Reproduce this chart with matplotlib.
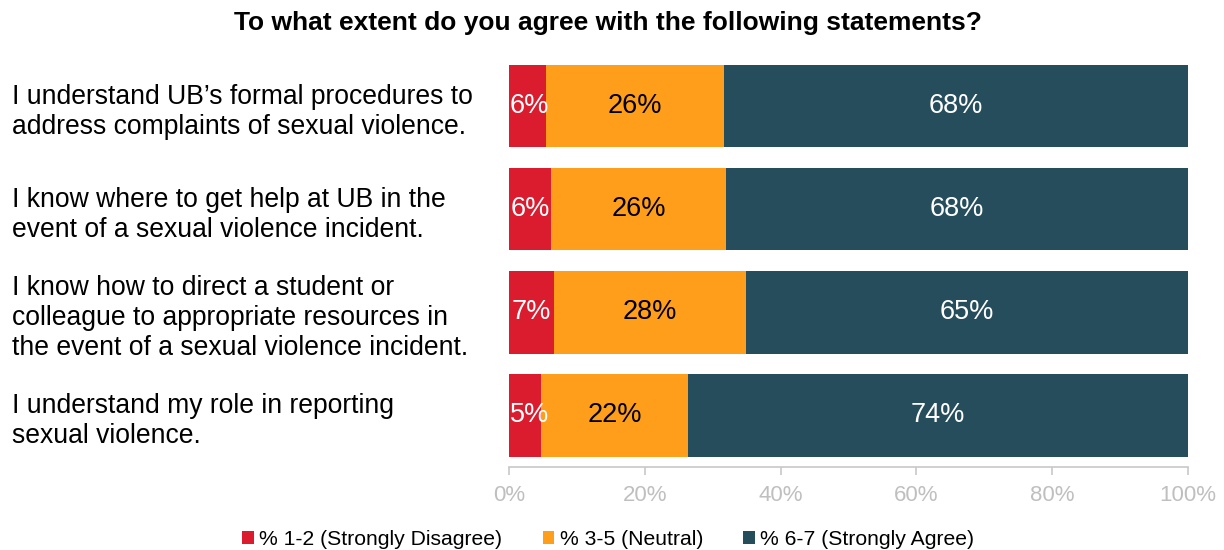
import matplotlib
matplotlib.use("Agg")
import matplotlib.pyplot as plt
from matplotlib.patches import Patch
from matplotlib.transforms import blended_transform_factory

plt.rcParams['font.family'] = ['Liberation Sans', 'DejaVu Sans']

statements = [
    "I understand UB\u2019s formal procedures to\naddress complaints of sexual violence.",
    "I know where to get help at UB in the\nevent of a sexual violence incident.",
    "I know how to direct a student or\ncolleague to appropriate resources in\nthe event of a sexual violence incident.",
    "I understand my role in reporting\nsexual violence.",
]
disagree = [5.5, 6.2, 6.7, 4.7]
neutral = [26.2, 25.8, 28.2, 21.7]
agree = [68.3, 68.0, 65.1, 73.6]
series_names = ["% 1-2 (Strongly Disagree)", "% 3-5 (Neutral)", "% 6-7 (Strongly Agree)"]
colors = ["#DA1C2E", "#FF9E1B", "#264D5C"]
label_colors = ["white", "black", "white"]
x_ticks = [0, 20, 40, 60, 80, 100]

fig = plt.figure(figsize=(12.24, 5.5), dpi=100)
ax = fig.add_axes([0.4158, 0.1509, 0.5548, 0.75])

y = list(range(len(statements)))
left = [0.0] * len(statements)
for vals, col, tcol in zip([disagree, neutral, agree], colors, label_colors):
    ax.barh(y, vals, left=left, height=0.8, color=col, edgecolor='none')
    for yi, v, l in zip(y, vals, left):
        # keep narrow labels from spilling past the left edge of the plot
        xc = max(l + v / 2, 3.0)
        ax.text(xc, yi, f"{round(v):.0f}%", ha='center', va='center',
                color=tcol, fontsize=19.5)
    left = [a + b for a, b in zip(left, vals)]

ax.set_ylim(len(statements) - 0.5, -0.5)
ax.set_xlim(0, 100)
ax.set_yticks([])
ax.set_xticks(x_ticks)
ax.set_xticklabels([f"{t}%" for t in x_ticks], color="#BFBFBF", fontsize=16)
ax.tick_params(axis='x', length=6, width=1.2, color="#C8C8C8", pad=7)
for s in ['top', 'right', 'left']:
    ax.spines[s].set_visible(False)
ax.spines['bottom'].set_color("#C8C8C8")
ax.spines['bottom'].set_linewidth(1.2)

# statement labels sit at the figure's left margin, a little below each bar's centre
label_tf = blended_transform_factory(fig.transFigure, ax.transData)
for yi, s in zip(y, statements):
    ax.text(12 / 1224, yi + 0.055, s, transform=label_tf, ha='left', va='center',
            fontsize=19.1, color='black', linespacing=1.22, clip_on=False)

fig.text(0.497, 0.958, "To what extent do you agree with the following statements?",
         ha='center', va='center', fontsize=19, fontweight='bold')

handles = [Patch(facecolor=c, edgecolor='none') for c in colors]
fig.legend(handles, series_names, loc='center', bbox_to_anchor=(0.497, 0.019),
           ncol=3, frameon=False, fontsize=15.25, handlelength=0.55, handleheight=0.55,
           handletextpad=0.25, columnspacing=1.9)

fig.savefig("out.png", dpi=100)
